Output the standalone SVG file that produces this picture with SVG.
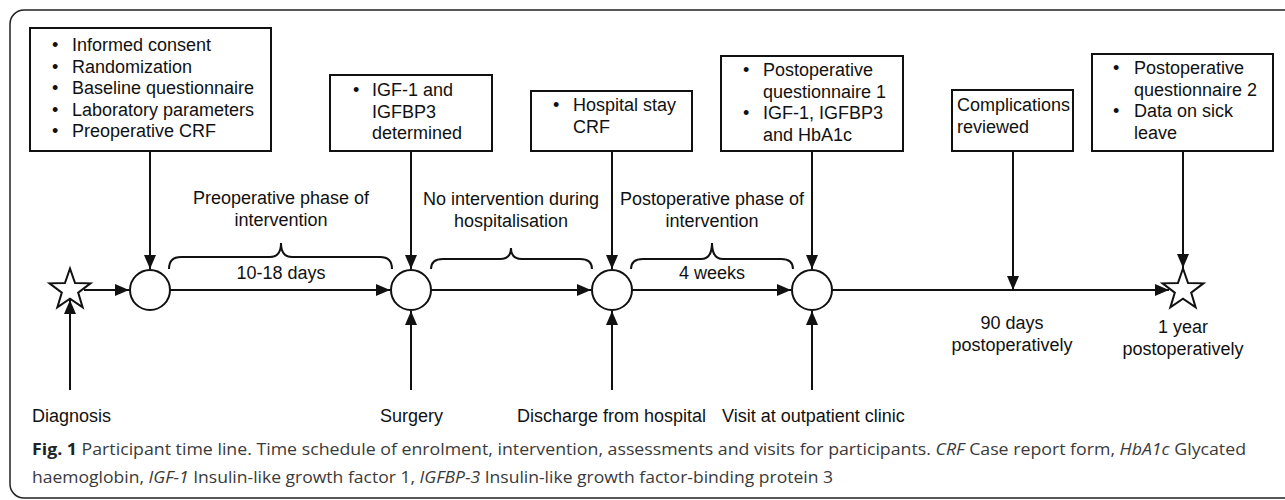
<svg xmlns="http://www.w3.org/2000/svg" width="1285" height="500" viewBox="0 0 1285 500">
<style>
text{font-family:"Liberation Sans",Arial,sans-serif;font-size:18px;fill:#111}
.box{fill:#fff;stroke:#111;stroke-width:2}
.ln{stroke:#111;stroke-width:2;fill:none}
.arr{stroke:#111;stroke-width:2;fill:none;marker-end:url(#ah)}
.brace{stroke:#111;stroke-width:2;fill:none}
.node{fill:#fff;stroke:#111;stroke-width:2}
.mid{text-anchor:middle}
.cap{font-family:"Open Sans","Noto Sans",sans-serif;font-size:16.5px;fill:#3a3a3a}
.capb{font-weight:bold;fill:#222}
.it{font-style:italic}
</style>
<defs>
<marker id="ah" markerUnits="userSpaceOnUse" markerWidth="14" markerHeight="12" refX="14" refY="6" orient="auto">
<path d="M0,0 L14,6 L0,12 z" fill="#111"/>
</marker>
<polygon id="star" points="0,-21.5 5.05,-6.96 20.45,-6.64 8.18,2.66 12.64,17.39 0,8.6 -12.64,17.39 -8.18,2.66 -20.45,-6.64 -5.05,-6.96"/>
</defs>
<rect x="10" y="10" width="1300" height="488" rx="14" fill="#fff" stroke="#222" stroke-width="1.5"/>
<g id="connectors">
<line class="arr" x1="84" y1="290" x2="129" y2="290"/>
<line class="arr" x1="170" y1="290" x2="390" y2="290"/>
<line class="arr" x1="431" y1="290" x2="591" y2="290"/>
<line class="arr" x1="632" y1="290" x2="791" y2="290"/>
<line class="arr" x1="832" y1="290" x2="1169" y2="290"/>
<line class="arr" x1="150" y1="151" x2="150" y2="269"/>
<line class="arr" x1="411" y1="151" x2="411" y2="269"/>
<line class="arr" x1="612" y1="151" x2="612" y2="269"/>
<line class="arr" x1="812" y1="151" x2="812" y2="269"/>
<line class="arr" x1="1013" y1="151" x2="1013" y2="290"/>
<line class="arr" x1="1183" y1="151" x2="1183" y2="268"/>
<line class="arr" x1="70" y1="390" x2="70" y2="300"/>
<line class="arr" x1="411" y1="390" x2="411" y2="311"/>
<line class="arr" x1="612" y1="390" x2="612" y2="311"/>
<line class="arr" x1="812" y1="390" x2="812" y2="311"/>
</g>
<g id="start-star"><use href="#star" x="70" y="290" class="node"/></g>
<g id="end-star"><use href="#star" x="1183" y="290" class="node"/></g>
<g id="circle-enrol"><circle class="node" cx="150" cy="290" r="20"/></g>
<g id="circle-surgery"><circle class="node" cx="411" cy="290" r="20"/></g>
<g id="circle-discharge"><circle class="node" cx="612" cy="290" r="20"/></g>
<g id="circle-visit"><circle class="node" cx="812" cy="290" r="20"/></g>
<g id="box-enrol">
<rect class="box" x="30" y="28" width="241" height="123"/>
<text x="52" y="51">•</text><text x="72" y="51">Informed consent</text>
<text x="52" y="72.5">•</text><text x="72" y="72.5">Randomization</text>
<text x="52" y="94">•</text><text x="72" y="94">Baseline questionnaire</text>
<text x="52" y="115.5">•</text><text x="72" y="115.5">Laboratory parameters</text>
<text x="52" y="137">•</text><text x="72" y="137">Preoperative CRF</text>
</g>
<g id="box-surgery">
<rect class="box" x="330" y="75" width="162" height="76"/>
<text x="353" y="96">•</text><text x="372" y="96">IGF-1 and</text>
<text x="372" y="117.5">IGFBP3</text>
<text x="372" y="139">determined</text>
</g>
<g id="box-hospital">
<rect class="box" x="531" y="91" width="161" height="60"/>
<text x="553" y="111">•</text><text x="573" y="111">Hospital stay</text>
<text x="573" y="132.5">CRF</text>
</g>
<g id="box-visit">
<rect class="box" x="721" y="56" width="182" height="95"/>
<text x="743" y="76">•</text><text x="763" y="76">Postoperative</text>
<text x="763" y="97.5">questionnaire 1</text>
<text x="743" y="119">•</text><text x="763" y="119">IGF-1, IGFBP3</text>
<text x="763" y="140.5">and HbA1c</text>
</g>
<g id="box-complications">
<rect class="box" x="952" y="90" width="121" height="61"/>
<text x="957" y="111">Complications</text>
<text x="957" y="132.5">reviewed</text>
</g>
<g id="box-year">
<rect class="box" x="1092" y="54" width="181" height="97"/>
<text x="1113" y="74">•</text><text x="1134" y="74">Postoperative</text>
<text x="1134" y="95.5">questionnaire 2</text>
<text x="1113" y="117">•</text><text x="1134" y="117">Data on sick</text>
<text x="1134" y="138.5">leave</text>
</g>
<g id="phase-pre">
<path class="brace" d="M169,269 Q169,257 181,257 L270,257 Q281,257 281,243 Q281,257 292,257 L380,257 Q392,257 392,269"/>
<text class="mid" x="281" y="204">Preoperative phase of</text>
<text class="mid" x="281" y="225.5">intervention</text>
<text class="mid" x="281" y="279">10-18 days</text>
</g>
<g id="phase-hosp">
<path class="brace" d="M431,269 Q431,259 443,259 L500,259 Q511,259 511,248 Q511,259 522,259 L580,259 Q592,259 592,269"/>
<text class="mid" x="511" y="205">No intervention during</text>
<text class="mid" x="511" y="226.5">hospitalisation</text>
</g>
<g id="phase-post">
<path class="brace" d="M631,269 Q631,259 643,259 L701,259 Q712,259 712,243 Q712,259 723,259 L781,259 Q793,259 793,269"/>
<text class="mid" x="712" y="205">Postoperative phase of</text>
<text class="mid" x="712" y="226.5">intervention</text>
<text class="mid" x="712" y="279">4 weeks</text>
</g>
<g id="label-90days">
<text class="mid" x="1012" y="329">90 days</text>
<text class="mid" x="1012" y="351">postoperatively</text>
</g>
<g id="label-1year">
<text class="mid" x="1183" y="333">1 year</text>
<text class="mid" x="1183" y="355">postoperatively</text>
</g>
<g id="bottom-labels">
<text x="32" y="422">Diagnosis</text>
<text x="380" y="422">Surgery</text>
<text x="517" y="422">Discharge from hospital</text>
<text x="722" y="422">Visit at outpatient clinic</text>
</g>
<g id="caption">
<text class="cap" x="32" y="455" textLength="1214" lengthAdjust="spacingAndGlyphs"><tspan class="capb">Fig. 1</tspan> Participant time line. Time schedule of enrolment, intervention, assessments and visits for participants. <tspan class="it">CRF</tspan> Case report form, <tspan class="it">HbA1c</tspan> Glycated</text>
<text class="cap" x="32" y="483" textLength="801" lengthAdjust="spacingAndGlyphs">haemoglobin, <tspan class="it">IGF-1</tspan> Insulin-like growth factor 1, <tspan class="it">IGFBP-3</tspan> Insulin-like growth factor-binding protein 3</text>
</g>
</svg>
